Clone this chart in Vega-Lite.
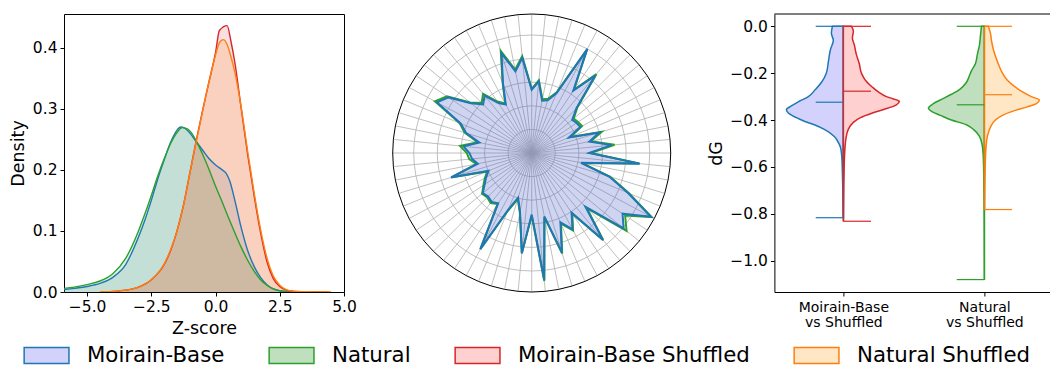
{
"$schema": "https://vega.github.io/schema/vega-lite/v6.json",
"padding": {"left": 8, "top": 12, "right": 0, "bottom": 0},
"config": {
  "font": "DejaVu Sans",
  "view": {"stroke": "black", "strokeWidth": 1},
  "axis": {"grid": false, "domain": false, "tickColor": "black", "tickSize": 4, "tickWidth": 1, "labelColor": "black", "titleColor": "black", "labelFont": "DejaVu Sans", "titleFont": "DejaVu Sans", "labelFontSize": 15.5, "titleFontSize": 17.5, "titleFontWeight": "normal", "labelPadding": 3, "labelFlush": false, "labelOverlap": false, "labelBound": false, "labelAngle": 0}
},
"datasets": {
  "kde": [
    {"s":"Moirain-Base","x":-5.9,"d":0.004},{"s":"Moirain-Base","x":-5.5,"d":0.006},{"s":"Moirain-Base","x":-5.0,"d":0.009},{"s":"Moirain-Base","x":-4.5,"d":0.014},{"s":"Moirain-Base","x":-4.0,"d":0.024},{"s":"Moirain-Base","x":-3.5,"d":0.045},{"s":"Moirain-Base","x":-3.0,"d":0.09},{"s":"Moirain-Base","x":-2.75,"d":0.118},{"s":"Moirain-Base","x":-2.5,"d":0.15},{"s":"Moirain-Base","x":-2.25,"d":0.185},{"s":"Moirain-Base","x":-2.0,"d":0.216},{"s":"Moirain-Base","x":-1.75,"d":0.245},{"s":"Moirain-Base","x":-1.5,"d":0.265},{"s":"Moirain-Base","x":-1.35,"d":0.27},{"s":"Moirain-Base","x":-1.2,"d":0.268},{"s":"Moirain-Base","x":-1.0,"d":0.26},{"s":"Moirain-Base","x":-0.75,"d":0.246},{"s":"Moirain-Base","x":-0.5,"d":0.232},{"s":"Moirain-Base","x":-0.25,"d":0.218},{"s":"Moirain-Base","x":0.0,"d":0.208},{"s":"Moirain-Base","x":0.25,"d":0.2},{"s":"Moirain-Base","x":0.4,"d":0.195},{"s":"Moirain-Base","x":0.55,"d":0.182},{"s":"Moirain-Base","x":0.75,"d":0.15},{"s":"Moirain-Base","x":1.0,"d":0.105},{"s":"Moirain-Base","x":1.25,"d":0.068},{"s":"Moirain-Base","x":1.5,"d":0.042},{"s":"Moirain-Base","x":1.75,"d":0.024},{"s":"Moirain-Base","x":2.0,"d":0.012},{"s":"Moirain-Base","x":2.25,"d":0.005},{"s":"Moirain-Base","x":2.5,"d":0.002},{"s":"Moirain-Base","x":2.75,"d":0.0007},{"s":"Moirain-Base","x":3.0,"d":0.0002},{"s":"Moirain-Base","x":3.5,"d":0},
    {"s":"Natural","x":-5.9,"d":0.006},{"s":"Natural","x":-5.5,"d":0.008},{"s":"Natural","x":-5.0,"d":0.012},{"s":"Natural","x":-4.5,"d":0.018},{"s":"Natural","x":-4.0,"d":0.03},{"s":"Natural","x":-3.5,"d":0.055},{"s":"Natural","x":-3.0,"d":0.1},{"s":"Natural","x":-2.75,"d":0.128},{"s":"Natural","x":-2.5,"d":0.158},{"s":"Natural","x":-2.25,"d":0.19},{"s":"Natural","x":-2.0,"d":0.218},{"s":"Natural","x":-1.75,"d":0.243},{"s":"Natural","x":-1.5,"d":0.261},{"s":"Natural","x":-1.3,"d":0.269},{"s":"Natural","x":-1.1,"d":0.267},{"s":"Natural","x":-0.9,"d":0.258},{"s":"Natural","x":-0.75,"d":0.247},{"s":"Natural","x":-0.5,"d":0.225},{"s":"Natural","x":-0.25,"d":0.2},{"s":"Natural","x":0.0,"d":0.173},{"s":"Natural","x":0.25,"d":0.148},{"s":"Natural","x":0.5,"d":0.122},{"s":"Natural","x":0.75,"d":0.097},{"s":"Natural","x":1.0,"d":0.073},{"s":"Natural","x":1.25,"d":0.052},{"s":"Natural","x":1.5,"d":0.034},{"s":"Natural","x":1.75,"d":0.02},{"s":"Natural","x":2.0,"d":0.011},{"s":"Natural","x":2.25,"d":0.005},{"s":"Natural","x":2.5,"d":0.002},{"s":"Natural","x":2.75,"d":0.0008},{"s":"Natural","x":3.0,"d":0.0003},{"s":"Natural","x":3.5,"d":0},
    {"s":"Moirain-Base Shuffled","x":-4.5,"d":0.0003},{"s":"Moirain-Base Shuffled","x":-4.0,"d":0.001},{"s":"Moirain-Base Shuffled","x":-3.5,"d":0.003},{"s":"Moirain-Base Shuffled","x":-3.0,"d":0.008},{"s":"Moirain-Base Shuffled","x":-2.5,"d":0.02},{"s":"Moirain-Base Shuffled","x":-2.0,"d":0.045},{"s":"Moirain-Base Shuffled","x":-1.75,"d":0.068},{"s":"Moirain-Base Shuffled","x":-1.5,"d":0.1},{"s":"Moirain-Base Shuffled","x":-1.25,"d":0.142},{"s":"Moirain-Base Shuffled","x":-1.0,"d":0.195},{"s":"Moirain-Base Shuffled","x":-0.75,"d":0.248},{"s":"Moirain-Base Shuffled","x":-0.5,"d":0.298},{"s":"Moirain-Base Shuffled","x":-0.25,"d":0.345},{"s":"Moirain-Base Shuffled","x":0.0,"d":0.392},{"s":"Moirain-Base Shuffled","x":0.15,"d":0.428},{"s":"Moirain-Base Shuffled","x":0.45,"d":0.436},{"s":"Moirain-Base Shuffled","x":0.6,"d":0.41},{"s":"Moirain-Base Shuffled","x":0.75,"d":0.376},{"s":"Moirain-Base Shuffled","x":1.0,"d":0.3},{"s":"Moirain-Base Shuffled","x":1.25,"d":0.225},{"s":"Moirain-Base Shuffled","x":1.5,"d":0.158},{"s":"Moirain-Base Shuffled","x":1.75,"d":0.098},{"s":"Moirain-Base Shuffled","x":2.0,"d":0.05},{"s":"Moirain-Base Shuffled","x":2.25,"d":0.022},{"s":"Moirain-Base Shuffled","x":2.5,"d":0.009},{"s":"Moirain-Base Shuffled","x":2.75,"d":0.003},{"s":"Moirain-Base Shuffled","x":3.0,"d":0.0012},{"s":"Moirain-Base Shuffled","x":3.5,"d":0.0003},{"s":"Moirain-Base Shuffled","x":4.0,"d":0.0001},{"s":"Moirain-Base Shuffled","x":4.4,"d":0},
    {"s":"Natural Shuffled","x":-4.5,"d":0.0003},{"s":"Natural Shuffled","x":-4.0,"d":0.001},{"s":"Natural Shuffled","x":-3.5,"d":0.003},{"s":"Natural Shuffled","x":-3.0,"d":0.008},{"s":"Natural Shuffled","x":-2.5,"d":0.02},{"s":"Natural Shuffled","x":-2.0,"d":0.046},{"s":"Natural Shuffled","x":-1.75,"d":0.069},{"s":"Natural Shuffled","x":-1.5,"d":0.1},{"s":"Natural Shuffled","x":-1.25,"d":0.142},{"s":"Natural Shuffled","x":-1.0,"d":0.194},{"s":"Natural Shuffled","x":-0.75,"d":0.247},{"s":"Natural Shuffled","x":-0.5,"d":0.297},{"s":"Natural Shuffled","x":-0.25,"d":0.345},{"s":"Natural Shuffled","x":0.0,"d":0.388},{"s":"Natural Shuffled","x":0.15,"d":0.408},{"s":"Natural Shuffled","x":0.3,"d":0.413},{"s":"Natural Shuffled","x":0.45,"d":0.405},{"s":"Natural Shuffled","x":0.6,"d":0.385},{"s":"Natural Shuffled","x":0.75,"d":0.36},{"s":"Natural Shuffled","x":1.0,"d":0.302},{"s":"Natural Shuffled","x":1.25,"d":0.23},{"s":"Natural Shuffled","x":1.5,"d":0.163},{"s":"Natural Shuffled","x":1.75,"d":0.103},{"s":"Natural Shuffled","x":2.0,"d":0.056},{"s":"Natural Shuffled","x":2.25,"d":0.026},{"s":"Natural Shuffled","x":2.5,"d":0.011},{"s":"Natural Shuffled","x":2.75,"d":0.004},{"s":"Natural Shuffled","x":3.0,"d":0.0015},{"s":"Natural Shuffled","x":3.5,"d":0.0004},{"s":"Natural Shuffled","x":4.0,"d":0.0001},{"s":"Natural Shuffled","x":4.5,"d":0}
  ],
  "radar": [
    {"k":0,"mb":2.44,"nat":2.5},{"k":1,"mb":3.4,"nat":3.53},{"k":2,"mb":2.49,"nat":2.55},{"k":3,"mb":2.99,"nat":3.1},{"k":4,"mb":1.71,"nat":1.78},{"k":5,"mb":2.34,"nat":2.42},{"k":6,"mb":2.29,"nat":2.36},{"k":7,"mb":2.22,"nat":2.3},
    {"k":8,"mb":2.68,"nat":2.74},{"k":9,"mb":4.24,"nat":4.32},{"k":10,"mb":3.18,"nat":3.22},{"k":11,"mb":5.0,"nat":4.95},{"k":12,"mb":2.74,"nat":2.8},{"k":13,"mb":2.33,"nat":2.4},{"k":14,"mb":2.26,"nat":2.32},{"k":15,"mb":3.04,"nat":3.1},
    {"k":16,"mb":2.68,"nat":2.72},{"k":17,"mb":4.05,"nat":4.12},{"k":18,"mb":3.53,"nat":3.6},{"k":19,"mb":4.41,"nat":4.52},{"k":20,"mb":3.18,"nat":3.22},{"k":21,"mb":2.33,"nat":2.38},{"k":22,"mb":2.54,"nat":2.62},{"k":23,"mb":3.15,"nat":3.25},
    {"k":24,"mb":2.91,"nat":3.0},{"k":25,"mb":3.33,"nat":3.38},{"k":26,"mb":4.24,"nat":4.32},{"k":27,"mb":4.55,"nat":4.65},{"k":28,"mb":3.25,"nat":3.3},{"k":29,"mb":2.9,"nat":2.97},{"k":30,"mb":2.26,"nat":2.32},{"k":31,"mb":2.9,"nat":3.05},
    {"k":32,"mb":2.64,"nat":2.75},{"k":33,"mb":2.54,"nat":2.66},{"k":34,"mb":2.33,"nat":2.4},{"k":35,"mb":3.57,"nat":3.55},{"k":36,"mb":1.98,"nat":2.04},{"k":37,"mb":2.19,"nat":2.25},{"k":38,"mb":2.4,"nat":2.46},{"k":39,"mb":2.68,"nat":2.72},
    {"k":40,"mb":2.61,"nat":2.66},{"k":41,"mb":2.68,"nat":2.74},{"k":42,"mb":2.56,"nat":2.6},{"k":43,"mb":4.63,"nat":4.6},{"k":44,"mb":2.61,"nat":2.66},{"k":45,"mb":1.98,"nat":2.04},{"k":46,"mb":2.54,"nat":2.58},{"k":47,"mb":4.28,"nat":4.25},
    {"k":48,"mb":2.61,"nat":2.66},{"k":49,"mb":5.4,"nat":5.45},{"k":50,"mb":2.74,"nat":2.78},{"k":51,"mb":4.41,"nat":4.45},{"k":52,"mb":3.18,"nat":3.24},{"k":53,"mb":3.67,"nat":3.72},{"k":54,"mb":3.04,"nat":3.1},{"k":55,"mb":4.75,"nat":4.78},
    {"k":56,"mb":3.22,"nat":3.3},{"k":57,"mb":5.04,"nat":5.2},{"k":58,"mb":4.63,"nat":4.76},{"k":59,"mb":5.73,"nat":5.76},{"k":60,"mb":4.41,"nat":4.46},{"k":61,"mb":3.43,"nat":3.48},{"k":62,"mb":2.13,"nat":2.18},{"k":63,"mb":4.6,"nat":4.58}
  ],
  "rings": [{"r":1,"kind":"grid"},{"r":2,"kind":"grid"},{"r":3,"kind":"grid"},{"r":4,"kind":"grid"},{"r":5,"kind":"grid"},{"r":5.89,"kind":"spine"}],
  "violin": [
    {"s":"Moirain-Base","pos":0,"side":-1,"y":0,"w":0.078},{"s":"Moirain-Base","pos":0,"side":-1,"y":-0.03,"w":0.085},{"s":"Moirain-Base","pos":0,"side":-1,"y":-0.06,"w":0.071},{"s":"Moirain-Base","pos":0,"side":-1,"y":-0.1,"w":0.092},{"s":"Moirain-Base","pos":0,"side":-1,"y":-0.15,"w":0.106},{"s":"Moirain-Base","pos":0,"side":-1,"y":-0.2,"w":0.121},{"s":"Moirain-Base","pos":0,"side":-1,"y":-0.24,"w":0.156},{"s":"Moirain-Base","pos":0,"side":-1,"y":-0.27,"w":0.199},{"s":"Moirain-Base","pos":0,"side":-1,"y":-0.3,"w":0.248},{"s":"Moirain-Base","pos":0,"side":-1,"y":-0.32,"w":0.312},{"s":"Moirain-Base","pos":0,"side":-1,"y":-0.34,"w":0.369},{"s":"Moirain-Base","pos":0,"side":-1,"y":-0.356,"w":0.404},{"s":"Moirain-Base","pos":0,"side":-1,"y":-0.37,"w":0.39},{"s":"Moirain-Base","pos":0,"side":-1,"y":-0.39,"w":0.333},{"s":"Moirain-Base","pos":0,"side":-1,"y":-0.405,"w":0.277},{"s":"Moirain-Base","pos":0,"side":-1,"y":-0.42,"w":0.206},{"s":"Moirain-Base","pos":0,"side":-1,"y":-0.44,"w":0.135},{"s":"Moirain-Base","pos":0,"side":-1,"y":-0.47,"w":0.064},{"s":"Moirain-Base","pos":0,"side":-1,"y":-0.5,"w":0.032},{"s":"Moirain-Base","pos":0,"side":-1,"y":-0.52,"w":0.019},{"s":"Moirain-Base","pos":0,"side":-1,"y":-0.56,"w":0.011},{"s":"Moirain-Base","pos":0,"side":-1,"y":-0.62,"w":0.007},{"s":"Moirain-Base","pos":0,"side":-1,"y":-0.7,"w":0.004},{"s":"Moirain-Base","pos":0,"side":-1,"y":-0.815,"w":0.0014},
    {"s":"Moirain-Base Shuffled","pos":0,"side":1,"y":0,"w":0.057},{"s":"Moirain-Base Shuffled","pos":0,"side":1,"y":-0.02,"w":0.071},{"s":"Moirain-Base Shuffled","pos":0,"side":1,"y":-0.05,"w":0.064},{"s":"Moirain-Base Shuffled","pos":0,"side":1,"y":-0.08,"w":0.078},{"s":"Moirain-Base Shuffled","pos":0,"side":1,"y":-0.12,"w":0.092},{"s":"Moirain-Base Shuffled","pos":0,"side":1,"y":-0.16,"w":0.113},{"s":"Moirain-Base Shuffled","pos":0,"side":1,"y":-0.2,"w":0.128},{"s":"Moirain-Base Shuffled","pos":0,"side":1,"y":-0.23,"w":0.156},{"s":"Moirain-Base Shuffled","pos":0,"side":1,"y":-0.26,"w":0.206},{"s":"Moirain-Base Shuffled","pos":0,"side":1,"y":-0.28,"w":0.248},{"s":"Moirain-Base Shuffled","pos":0,"side":1,"y":-0.3,"w":0.305},{"s":"Moirain-Base Shuffled","pos":0,"side":1,"y":-0.31,"w":0.355},{"s":"Moirain-Base Shuffled","pos":0,"side":1,"y":-0.32,"w":0.397},{"s":"Moirain-Base Shuffled","pos":0,"side":1,"y":-0.335,"w":0.376},{"s":"Moirain-Base Shuffled","pos":0,"side":1,"y":-0.35,"w":0.312},{"s":"Moirain-Base Shuffled","pos":0,"side":1,"y":-0.37,"w":0.206},{"s":"Moirain-Base Shuffled","pos":0,"side":1,"y":-0.39,"w":0.121},{"s":"Moirain-Base Shuffled","pos":0,"side":1,"y":-0.41,"w":0.071},{"s":"Moirain-Base Shuffled","pos":0,"side":1,"y":-0.44,"w":0.035},{"s":"Moirain-Base Shuffled","pos":0,"side":1,"y":-0.48,"w":0.018},{"s":"Moirain-Base Shuffled","pos":0,"side":1,"y":-0.55,"w":0.0085},{"s":"Moirain-Base Shuffled","pos":0,"side":1,"y":-0.65,"w":0.0043},{"s":"Moirain-Base Shuffled","pos":0,"side":1,"y":-0.83,"w":0.0014},
    {"s":"Natural","pos":1,"side":-1,"y":0,"w":0.021},{"s":"Natural","pos":1,"side":-1,"y":-0.04,"w":0.028},{"s":"Natural","pos":1,"side":-1,"y":-0.08,"w":0.035},{"s":"Natural","pos":1,"side":-1,"y":-0.12,"w":0.05},{"s":"Natural","pos":1,"side":-1,"y":-0.16,"w":0.064},{"s":"Natural","pos":1,"side":-1,"y":-0.19,"w":0.092},{"s":"Natural","pos":1,"side":-1,"y":-0.21,"w":0.106},{"s":"Natural","pos":1,"side":-1,"y":-0.24,"w":0.128},{"s":"Natural","pos":1,"side":-1,"y":-0.27,"w":0.177},{"s":"Natural","pos":1,"side":-1,"y":-0.29,"w":0.234},{"s":"Natural","pos":1,"side":-1,"y":-0.31,"w":0.298},{"s":"Natural","pos":1,"side":-1,"y":-0.33,"w":0.362},{"s":"Natural","pos":1,"side":-1,"y":-0.35,"w":0.397},{"s":"Natural","pos":1,"side":-1,"y":-0.365,"w":0.369},{"s":"Natural","pos":1,"side":-1,"y":-0.38,"w":0.312},{"s":"Natural","pos":1,"side":-1,"y":-0.4,"w":0.234},{"s":"Natural","pos":1,"side":-1,"y":-0.42,"w":0.128},{"s":"Natural","pos":1,"side":-1,"y":-0.44,"w":0.078},{"s":"Natural","pos":1,"side":-1,"y":-0.47,"w":0.035},{"s":"Natural","pos":1,"side":-1,"y":-0.5,"w":0.018},{"s":"Natural","pos":1,"side":-1,"y":-0.55,"w":0.0085},{"s":"Natural","pos":1,"side":-1,"y":-0.65,"w":0.0043},{"s":"Natural","pos":1,"side":-1,"y":-0.8,"w":0.0021},{"s":"Natural","pos":1,"side":-1,"y":-1.08,"w":0.0007},
    {"s":"Natural Shuffled","pos":1,"side":1,"y":0,"w":0.028},{"s":"Natural Shuffled","pos":1,"side":1,"y":-0.03,"w":0.043},{"s":"Natural Shuffled","pos":1,"side":1,"y":-0.06,"w":0.05},{"s":"Natural Shuffled","pos":1,"side":1,"y":-0.1,"w":0.064},{"s":"Natural Shuffled","pos":1,"side":1,"y":-0.15,"w":0.092},{"s":"Natural Shuffled","pos":1,"side":1,"y":-0.2,"w":0.128},{"s":"Natural Shuffled","pos":1,"side":1,"y":-0.23,"w":0.163},{"s":"Natural Shuffled","pos":1,"side":1,"y":-0.26,"w":0.22},{"s":"Natural Shuffled","pos":1,"side":1,"y":-0.28,"w":0.27},{"s":"Natural Shuffled","pos":1,"side":1,"y":-0.3,"w":0.333},{"s":"Natural Shuffled","pos":1,"side":1,"y":-0.315,"w":0.39},{"s":"Natural Shuffled","pos":1,"side":1,"y":-0.33,"w":0.369},{"s":"Natural Shuffled","pos":1,"side":1,"y":-0.345,"w":0.298},{"s":"Natural Shuffled","pos":1,"side":1,"y":-0.36,"w":0.213},{"s":"Natural Shuffled","pos":1,"side":1,"y":-0.38,"w":0.128},{"s":"Natural Shuffled","pos":1,"side":1,"y":-0.4,"w":0.078},{"s":"Natural Shuffled","pos":1,"side":1,"y":-0.43,"w":0.043},{"s":"Natural Shuffled","pos":1,"side":1,"y":-0.47,"w":0.021},{"s":"Natural Shuffled","pos":1,"side":1,"y":-0.52,"w":0.011},{"s":"Natural Shuffled","pos":1,"side":1,"y":-0.6,"w":0.0057},{"s":"Natural Shuffled","pos":1,"side":1,"y":-0.78,"w":0.0014}
  ],
  "vstats": [
    {"s":"Moirain-Base","pos":0,"top":0,"bot":-0.817},
    {"s":"Moirain-Base Shuffled","pos":0,"top":0,"bot":-0.832},
    {"s":"Natural","pos":1,"top":0,"bot":-1.081},
    {"s":"Natural Shuffled","pos":1,"top":0,"bot":-0.782}
  ],
  "hstats": [
    {"s":"Moirain-Base","pos":0,"side":-1,"v":0},{"s":"Moirain-Base","pos":0,"side":-1,"v":-0.817},{"s":"Moirain-Base","pos":0,"side":-1,"v":-0.324},
    {"s":"Moirain-Base Shuffled","pos":0,"side":1,"v":0},{"s":"Moirain-Base Shuffled","pos":0,"side":1,"v":-0.832},{"s":"Moirain-Base Shuffled","pos":0,"side":1,"v":-0.277},
    {"s":"Natural","pos":1,"side":-1,"v":0},{"s":"Natural","pos":1,"side":-1,"v":-1.081},{"s":"Natural","pos":1,"side":-1,"v":-0.335},
    {"s":"Natural Shuffled","pos":1,"side":1,"v":0},{"s":"Natural Shuffled","pos":1,"side":1,"v":-0.782},{"s":"Natural Shuffled","pos":1,"side":1,"v":-0.292}
  ],
  "spine": [{"t": 0.0525}]
},
"bounds": "flush",
"spacing": 48.7,
"resolve": {"scale": {"color": "independent", "size": "independent"}},
"hconcat": [
  {
    "width": 280, "height": 278,
    "data": {"name": "kde"},
    "encoding": {
      "x": {"field": "x", "type": "quantitative", "scale": {"domain": [-5.9, 5.0], "nice": false, "zero": false}, "axis": {"values": [-5, -2.5, 0, 2.5, 5], "format": ".1f", "title": "Z-score", "titlePadding": 5}},
      "y": {"field": "d", "type": "quantitative", "stack": null, "scale": {"domain": [0, 0.455], "nice": false}, "axis": {"values": [0, 0.1, 0.2, 0.3, 0.4], "format": ".1f", "title": "Density", "titlePadding": 5}},
      "color": {"field": "s", "type": "nominal", "scale": {"domain": ["Moirain-Base", "Natural", "Moirain-Base Shuffled", "Natural Shuffled"], "range": ["#1f77b4", "#2ca02c", "#d62728", "#ff7f0e"]}, "legend": null}
    },
    "layer": [
      {"mark": {"type": "area", "fillOpacity": 0.15, "interpolate": "monotone", "clip": true}},
      {"mark": {"type": "line", "strokeWidth": 1.4, "interpolate": "monotone", "clip": true}}
    ]
  },
  {
    "width": 332.6, "height": 278,
    "view": {"stroke": null},
    "layer": [
      {
        "data": {"name": "radar"},
        "transform": [{"calculate": "5.89*cos(datum.k*PI/32)", "as": "ex"}, {"calculate": "5.89*sin(datum.k*PI/32)", "as": "ey"}, {"calculate": "0", "as": "zero"}],
        "mark": {"type": "rule", "stroke": "#b0b0b0", "strokeWidth": 0.8},
        "encoding": {
          "x": {"field": "zero", "type": "quantitative", "scale": {"domain": [-5.89, 8.203], "nice": false, "zero": false}, "axis": null},
          "y": {"field": "zero", "type": "quantitative", "scale": {"domain": [-5.89, 5.89], "nice": false, "zero": false}, "axis": null},
          "x2": {"field": "ex"}, "y2": {"field": "ey"}
        }
      },
      {
        "data": {"name": "rings"},
        "transform": [{"filter": "datum.kind == 'grid'"}, {"calculate": "0", "as": "zero"}],
        "mark": {"type": "point", "shape": "circle", "filled": false, "stroke": "#b0b0b0", "strokeWidth": 0.8, "opacity": 1},
        "encoding": {
          "x": {"field": "zero", "type": "quantitative", "axis": null},
          "y": {"field": "zero", "type": "quantitative", "axis": null},
          "size": {"field": "r", "type": "quantitative", "scale": {"type": "pow", "exponent": 2, "domain": [0, 5.89], "range": [0, 77284]}, "legend": null}
        }
      },
      {
        "data": {"name": "radar"},
        "transform": [{"calculate": "datum.nat*cos(datum.k*PI/32)", "as": "px"}, {"calculate": "datum.nat*sin(datum.k*PI/32)", "as": "py"}],
        "mark": {"type": "line", "interpolate": "linear-closed", "stroke": "#2ca02c", "strokeWidth": 2},
        "encoding": {
          "x": {"field": "px", "type": "quantitative", "axis": null},
          "y": {"field": "py", "type": "quantitative", "axis": null},
          "order": {"field": "k", "type": "quantitative"}
        }
      },
      {
        "data": {"name": "radar"},
        "transform": [{"calculate": "datum.mb*cos(datum.k*PI/32)", "as": "px"}, {"calculate": "datum.mb*sin(datum.k*PI/32)", "as": "py"}],
        "mark": {"type": "line", "interpolate": "linear-closed", "stroke": "#1f77b4", "strokeWidth": 2, "fill": "#3f53c3", "fillOpacity": 0.25},
        "encoding": {
          "x": {"field": "px", "type": "quantitative", "axis": null},
          "y": {"field": "py", "type": "quantitative", "axis": null},
          "order": {"field": "k", "type": "quantitative"}
        }
      },
      {
        "data": {"name": "rings"},
        "transform": [{"filter": "datum.kind == 'spine'"}, {"calculate": "0", "as": "zero"}],
        "mark": {"type": "point", "shape": "circle", "filled": false, "stroke": "black", "strokeWidth": 1, "opacity": 1},
        "encoding": {
          "x": {"field": "zero", "type": "quantitative", "axis": null},
          "y": {"field": "zero", "type": "quantitative", "axis": null},
          "size": {"field": "r", "type": "quantitative", "scale": {"type": "pow", "exponent": 2, "domain": [0, 5.89], "range": [0, 77284]}, "legend": null}
        }
      }
    ]
  },
  {
    "width": 277, "height": 278,
    "view": {"stroke": null},
    "layer": [
      {
        "data": {"name": "violin"},
        "transform": [{"calculate": "datum.pos + datum.side*datum.w", "as": "edge"}],
        "mark": {"type": "area", "orient": "horizontal", "interpolate": "monotone", "strokeWidth": 1.5},
        "encoding": {
          "y": {"field": "y", "type": "quantitative", "scale": {"domain": [-1.134, 0.0525], "nice": false, "zero": false}, "axis": {"values": [0, -0.2, -0.4, -0.6, -0.8, -1.0], "format": ".1f", "title": "dG", "titlePadding": 4, "domain": true, "domainColor": "black", "domainWidth": 1}},
          "x": {"field": "edge", "type": "quantitative", "scale": {"domain": [-0.489, 1.475], "nice": false, "zero": false}, "axis": {"values": [0, 1], "labelExpr": "datum.value == 0 ? ['Moirain-Base', 'vs Shuffled'] : ['Natural', 'vs Shuffled']", "labelFontSize": 14, "labelLineHeight": 15.5, "title": null, "domain": true, "domainColor": "black", "domainWidth": 1, "labelPadding": 4}},
          "x2": {"field": "pos"},
          "fill": {"field": "s", "type": "nominal", "scale": {"domain": ["Moirain-Base", "Natural", "Moirain-Base Shuffled", "Natural Shuffled"], "range": ["#d2d2fc", "#bfdfbf", "#ffd0d0", "#ffe6c4"]},
            "legend": {"orient": "none", "legendX": -40, "legendY": 330.8, "direction": "horizontal", "columns": 4, "title": null, "symbolType": "M-2.8,-1H2.8V1H-2.8Z", "symbolSize": 256, "symbolStrokeWidth": 1.5, "symbolOffset": 11.9, "labelOffset": 29.8, "columnPadding": 41, "labelFontSize": 21.3, "labelFont": "DejaVu Sans", "labelColor": "black", "labelLimit": 600, "padding": 0}},
          "stroke": {"field": "s", "type": "nominal", "scale": {"domain": ["Moirain-Base", "Natural", "Moirain-Base Shuffled", "Natural Shuffled"], "range": ["#1f77b4", "#2ca02c", "#d62728", "#ff7f0e"]}}
        }
      },
      {
        "data": {"name": "vstats"},
        "mark": {"type": "rule", "strokeWidth": 1.3, "opacity": 0.85},
        "encoding": {
          "x": {"field": "pos", "type": "quantitative"},
          "y": {"field": "top", "type": "quantitative"},
          "y2": {"field": "bot"},
          "color": {"field": "s", "type": "nominal", "scale": {"domain": ["Moirain-Base", "Natural", "Moirain-Base Shuffled", "Natural Shuffled"], "range": ["#1f77b4", "#2ca02c", "#d62728", "#ff7f0e"]}, "legend": null}
        }
      },
      {
        "data": {"name": "hstats"},
        "transform": [{"calculate": "datum.pos + datum.side*0.196", "as": "xe"}],
        "mark": {"type": "rule", "strokeWidth": 1.2},
        "encoding": {
          "x": {"field": "pos", "type": "quantitative"},
          "x2": {"field": "xe"},
          "y": {"field": "v", "type": "quantitative"},
          "color": {"field": "s", "type": "nominal", "scale": {"domain": ["Moirain-Base", "Natural", "Moirain-Base Shuffled", "Natural Shuffled"], "range": ["#1f77b4", "#2ca02c", "#d62728", "#ff7f0e"]}, "legend": null}
        }
      },
      {
        "data": {"name": "spine"},
        "mark": {"type": "rule", "color": "black", "strokeWidth": 1},
        "encoding": {"y": {"field": "t", "type": "quantitative"}}
      }
    ]
  }
]
}
